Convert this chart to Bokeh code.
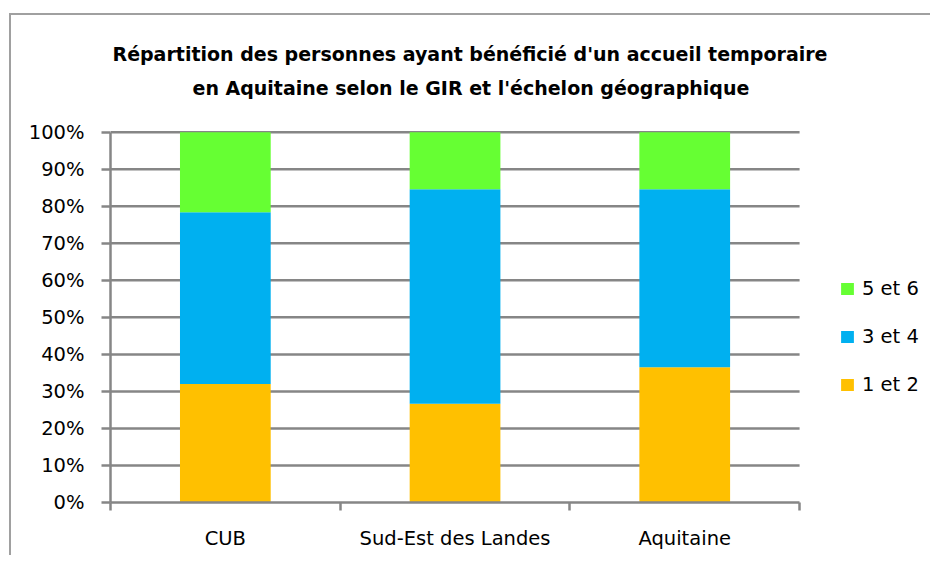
from bokeh.plotting import figure
from bokeh.models import (Range1d, FixedTicker, NumeralTickFormatter, Legend, LegendItem,
                          Title, ColumnDataSource, InlineStyleSheet)
from bokeh.embed import file_html
from bokeh.resources import INLINE

categories = ["CUB", "Sud-Est des Landes", "Aquitaine"]
series = ["1 et 2", "3 et 4", "5 et 6"]
gir_1_2 = [32.0, 26.7, 36.5]
gir_3_4 = [46.4, 57.9, 48.1]
gir_5_6 = [21.6, 15.4, 15.4]
colors = ["#FFC000", "#00B0F0", "#66FF33"]
y_ticks = [0, 10, 20, 30, 40, 50, 60, 70, 80, 90, 100]
title_lines = ["Répartition des personnes ayant bénéficié d'un accueil temporaire",
               "en Aquitaine selon le GIR et l'échelon géographique"]

FONT = "DejaVu Sans"
GRID = "#868686"
n = len(categories)

x_pos = [i + 0.5 for i in range(n)]
src = ColumnDataSource(dict(
    x=x_pos,
    s12=[v / 100 for v in gir_1_2],
    s34=[v / 100 for v in gir_3_4],
    s56=[v / 100 for v in gir_5_6],
))
grid_src = ColumnDataSource(dict(
    y=[t / 100 for t in y_ticks[1:]],
    x0=[0] * (len(y_ticks) - 1),
    x1=[n] * (len(y_ticks) - 1),
))

# the frame is widened to the right so that the legend can live inside it
p = figure(width=930, height=555, output_backend="svg", toolbar_location=None,
           x_range=Range1d(0, n + 0.57), y_range=Range1d(0, 1.01),
           min_border_left=110, min_border_top=128, min_border_right=0, min_border_bottom=53)
p.outline_line_color = None
p.background_fill_color = "white"
p.border_fill_color = "white"

# horizontal grid lines, limited to the category span
p.segment(x0="x0", x1="x1", y0="y", y1="y", source=grid_src,
          line_color=GRID, line_width=2.5, level="underlay")

renderers = p.vbar_stack(["s12", "s34", "s56"], x="x", width=0.395, source=src,
                         color=colors, line_color=None)

# y axis
p.yaxis.ticker = FixedTicker(ticks=[t / 100 for t in y_ticks])
p.yaxis.formatter = NumeralTickFormatter(format="0%")
p.yaxis.bounds = (0, 1)
p.yaxis.axis_line_color = GRID
p.yaxis.axis_line_width = 2.5
p.yaxis.major_tick_line_color = GRID
p.yaxis.major_tick_line_width = 2.5
p.yaxis.major_tick_out = 9
p.yaxis.major_tick_in = 0
p.yaxis.minor_tick_line_color = None
p.yaxis.major_label_standoff = 17
p.yaxis.major_label_text_font = FONT
p.yaxis.major_label_text_font_size = "19.5px"
p.yaxis.major_label_text_color = "black"

# x axis: labels at centers, tick marks between categories
p.xaxis.ticker = FixedTicker(ticks=x_pos, minor_ticks=list(range(n + 1)))
p.xaxis.major_label_overrides = {x: c for x, c in zip(x_pos, categories)}
p.xaxis.bounds = (0, n)
p.xaxis.axis_line_color = GRID
p.xaxis.axis_line_width = 2.5
p.xaxis.major_tick_line_color = None
p.xaxis.major_tick_out = 0
p.xaxis.major_tick_in = 0
p.xaxis.minor_tick_line_color = GRID
p.xaxis.minor_tick_line_width = 2.5
p.xaxis.minor_tick_out = 8
p.xaxis.minor_tick_in = 0
p.xaxis.major_label_standoff = 16
p.xaxis.major_label_text_font = FONT
p.xaxis.major_label_text_font_size = "19.5px"
p.xaxis.major_label_text_color = "black"

p.xgrid.grid_line_color = None
p.ygrid.grid_line_color = None

# title: spacer + two lines (first added sits closest to the plot)
p.add_layout(Title(text=" ", text_font_size="2px", standoff=21), "above")
p.add_layout(Title(text=title_lines[1], align="left", offset=82, text_font=FONT,
                   text_font_size="19px", text_font_style="bold", text_color="black",
                   standoff=10), "above")
p.add_layout(Title(text=title_lines[0], align="left", offset=2, text_font=FONT,
                   text_font_size="19px", text_font_style="bold", text_color="black",
                   standoff=10), "above")

legend = Legend(items=[LegendItem(label=series[i], renderers=[renderers[i]]) for i in (2, 1, 0)],
                location=(729, 106), orientation="vertical",
                glyph_width=16, glyph_height=15, label_height=24, spacing=24,
                label_standoff=7, margin=0, padding=0,
                border_line_color=None, background_fill_alpha=0,
                label_text_font=FONT, label_text_font_size="19.5px", label_text_color="black")
p.add_layout(legend)

# outer chart border (left and top edges visible, as in the reference)
p.stylesheets = [InlineStyleSheet(css=(
    ":host{overflow:hidden;}"
    ":host::after{content:'';position:absolute;left:9px;top:13px;right:-20px;bottom:-20px;"
    "border:2px solid #A0A0A0;pointer-events:none;z-index:10;}"
))]

open("out.html", "w").write(file_html(p, INLINE))
